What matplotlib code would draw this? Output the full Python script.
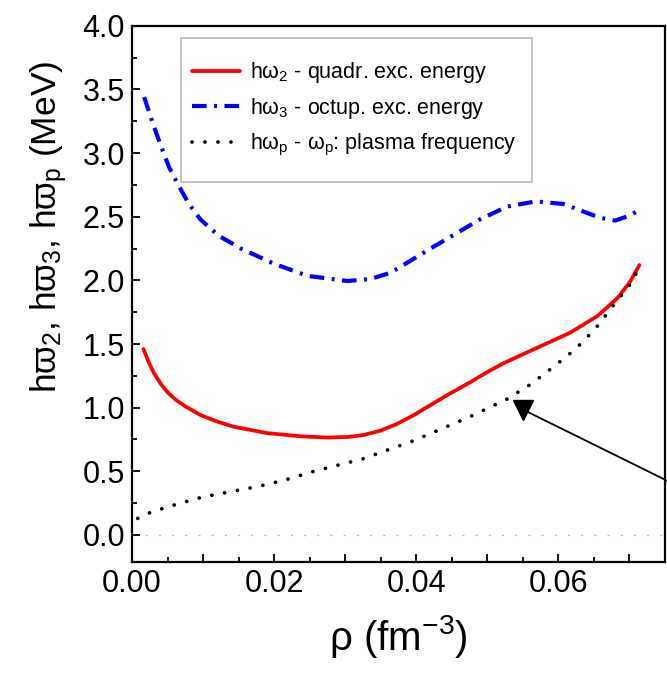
import matplotlib
matplotlib.use("Agg")
import matplotlib.pyplot as plt
from matplotlib.patches import Rectangle
from matplotlib.ticker import MultipleLocator, FuncFormatter

plt.rcParams['font.family'] = ['Liberation Sans', 'DejaVu Sans']
plt.rcParams['mathtext.fontset'] = 'custom'
plt.rcParams['mathtext.rm'] = 'Liberation Sans'
plt.rcParams['mathtext.it'] = 'Liberation Sans'
plt.rcParams['mathtext.sf'] = 'Liberation Sans'
plt.rcParams['mathtext.default'] = 'regular'

# density (fm^-3) and excitation energies (MeV)
rho_quad = [0.0016, 0.0024, 0.0031, 0.004, 0.005, 0.0062, 0.0075, 0.0097, 0.012,
            0.0143, 0.019, 0.0237, 0.0275, 0.0305, 0.0326, 0.035, 0.0372, 0.0396,
            0.042, 0.0444, 0.0476, 0.05, 0.0523, 0.057, 0.0617, 0.0655,
            0.0683, 0.0701, 0.0714]
e_quad = [1.46, 1.35, 1.27, 1.19, 1.12, 1.06, 1.01, 0.94, 0.89,
          0.85, 0.80, 0.775, 0.765, 0.77, 0.785, 0.82, 0.87, 0.94,
          1.02, 1.10, 1.20, 1.28, 1.35, 1.47, 1.59, 1.72,
          1.86, 1.99, 2.12]

rho_oct = [0.0017, 0.003, 0.0041, 0.0052, 0.0065, 0.008, 0.0096, 0.0122, 0.0153,
           0.02, 0.0247, 0.0303, 0.0335, 0.0364, 0.042, 0.049, 0.0528, 0.0568,
           0.0607, 0.064, 0.066, 0.068, 0.0701, 0.0714]
e_oct = [3.44, 3.22, 3.05, 2.89, 2.75, 2.60, 2.48, 2.35, 2.25,
         2.13, 2.035, 1.995, 2.01, 2.06, 2.25, 2.48, 2.58, 2.62,
         2.60, 2.53, 2.49, 2.47, 2.51, 2.555]

rho_plasma = [0.0008, 0.0027, 0.0065, 0.0101, 0.0139, 0.0177, 0.0214, 0.0256, 0.0326,
              0.0396, 0.0472, 0.0527, 0.056, 0.0593, 0.0624, 0.0652, 0.0677, 0.0704,
              0.0714]
e_plasma = [0.13, 0.18, 0.245, 0.30, 0.34, 0.38, 0.43, 0.50, 0.60,
            0.74, 0.92, 1.065, 1.18, 1.32, 1.46, 1.62, 1.80, 1.99,
            2.11]

labels = [r'h$\omega_2$ - quadr. exc. energy',
          r'h$\omega_3$ - octup. exc. energy',
          r'h$\omega_p$ - $\omega_p$: plasma frequency']

# pointer drawn onto the plasma curve
arrow_head = (0.0550, 0.985)
arrow_tail = (0.0753, 0.426)

fig = plt.figure(figsize=(6.67, 6.78), dpi=100)
ax = fig.add_axes([0.198, 0.171, 0.799, 0.791])

ax.axhline(0.0, color='#b8b8b8', lw=1.0, ls=(0, (1.5, 8)), zorder=1)

l1, = ax.plot(rho_quad, e_quad, color='#ff0000', lw=2.7, solid_capstyle='round',
              solid_joinstyle='round', zorder=3)
l2, = ax.plot(rho_oct, e_oct, color='#0000ff', lw=3.0, ls=(0, (3.5, 1.8, 0.7, 1.8)), zorder=3)
l3, = ax.plot(rho_plasma, e_plasma, color='black', lw=2.7, ls=(0, (0.01, 3.45)),
              dash_capstyle='round', zorder=3)

# arrow: thin line ending in a filled down-triangle
ax.plot([arrow_tail[0], arrow_head[0]], [arrow_tail[1], arrow_head[1]],
        color='black', lw=1.3, clip_on=False, zorder=4)
ax.plot([arrow_head[0]], [arrow_head[1]], marker='v', ms=15, color='black',
        mec='black', clip_on=False, zorder=5)

ax.set_xlim(0.0, 0.075)
ax.set_ylim(-0.213, 4.0)

ax.xaxis.set_major_locator(MultipleLocator(0.01))
ax.xaxis.set_minor_locator(MultipleLocator(0.005))
ax.xaxis.set_major_formatter(FuncFormatter(
    lambda v, p: f'{v:.2f}' if round(v * 100) % 2 == 0 else ''))
ax.yaxis.set_major_locator(MultipleLocator(0.5))
ax.yaxis.set_minor_locator(MultipleLocator(0.25))
ax.yaxis.set_major_formatter(FuncFormatter(lambda v, p: f'{v:.1f}'))

ax.tick_params(which='both', direction='in', top=False, right=False, width=1.3)
ax.tick_params(which='major', length=5.5, labelsize=22, pad=5)
ax.tick_params(which='minor', length=3.5)
for s in ax.spines.values():
    s.set_linewidth(1.6)

ax.set_xlabel(r'ρ (fm$^{-3}$)', fontsize=29)
ax.set_ylabel(r'h$\varpi_2$, h$\varpi_3$, h$\varpi_p$ (MeV)', fontsize=25.5)
ax.xaxis.set_label_coords(0.5, -0.095)
ax.yaxis.set_label_coords(-0.118, 0.625)

ax.add_patch(Rectangle((0.092, 0.709), 0.658, 0.269, transform=ax.transAxes,
                       facecolor='white', edgecolor='#b0b0b0', lw=1.1, zorder=6))
leg = ax.legend([l1, l2, l3], labels, loc='upper left', frameon=False,
                bbox_to_anchor=(0.112, 0.936), borderpad=0, borderaxespad=0,
                handlelength=2.25, handletextpad=0.45, labelspacing=0.5,
                fontsize=15.5)
leg.set_zorder(7)

fig.savefig('out.png', dpi=100)
